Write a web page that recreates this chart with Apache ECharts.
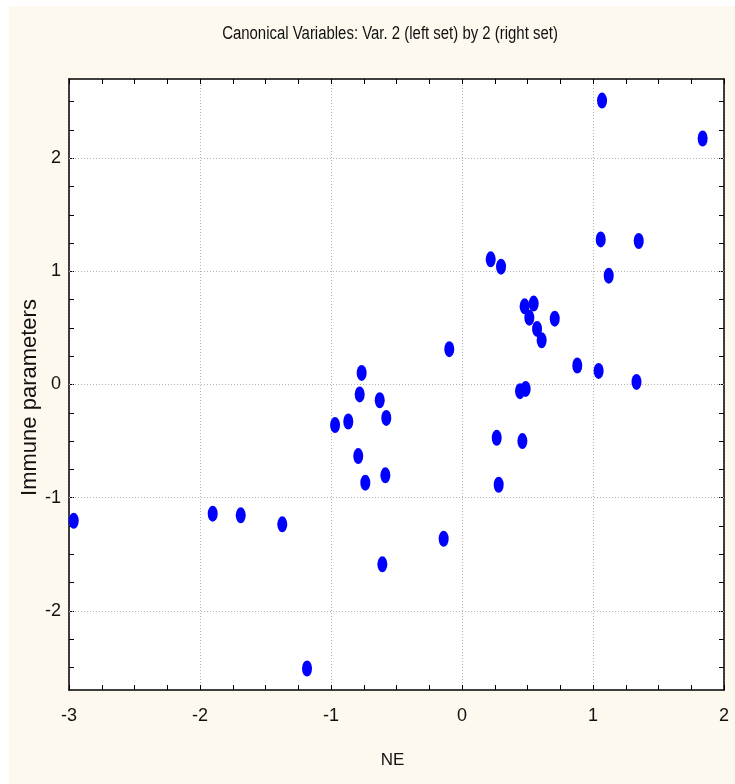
<!DOCTYPE html>
<html>
<head>
<meta charset="utf-8">
<script src="https://cdn.jsdelivr.net/npm/echarts@6/dist/echarts.min.js"></script>
<style>
  html, body { margin: 0; padding: 0; background: #ffffff; }
  #chart { position: absolute; left: 9px; top: 6px; width: 726px; height: 778px; }
</style>
</head>
<body>
<div id="chart"></div>
<script>
// Canonical variable scores: NE (left set, var. 2) vs immune parameters (right set, var. 2)
const neScores = [-2.964, -1.903, -1.689, -1.372, -1.183, -0.969, -0.868, -0.792, -0.781, -0.766,
                  -0.738, -0.628, -0.608, -0.585, -0.578, -0.140, -0.097, 0.219, 0.265, 0.280,
                  0.298, 0.443, 0.461, 0.478, 0.486, 0.514, 0.547, 0.573, 0.608, 0.708,
                  0.880, 1.043, 1.059, 1.069, 1.120, 1.332, 1.349, 1.837];
const immuneScores = [-1.204, -1.142, -1.156, -1.236, -2.510, -0.359, -0.327, -0.633, -0.088, 0.102,
                      -0.868, -0.139, -1.589, -0.803, -0.295, -1.363, 0.312, 1.106, -0.471, -0.886,
                      1.041, -0.059, -0.500, 0.691, -0.039, 0.591, 0.715, 0.491, 0.391, 0.582,
                      0.168, 0.120, 1.282, 2.509, 0.962, 0.023, 1.268, 2.174];

const yLabelValues = [-2, -1, 0, 1, 2];
const yTickValues = [-2.5, -2.25, -2, -1.75, -1.5, -1.25, -1, -0.75, -0.5, -0.25, 0,
                     0.25, 0.5, 0.75, 1, 1.25, 1.5, 1.75, 2, 2.25, 2.5];
const xRange = [-3, 2];
const yRange = [-2.7, 2.7];

const titleText = 'Canonical Variables: Var. 2 (left set) by 2 (right set)';
const xName = 'NE';
const yName = 'Immune parameters';

const sans = "'Liberation Sans', Arial, sans-serif";

const points = neScores.map((x, i) => [x, immuneScores[i]]);

const frameLine = { show: true, onZero: false, lineStyle: { color: '#000', width: 1.5 } };
const tickStyle = { color: '#000', width: 1 };

const chart = echarts.init(document.getElementById('chart'));
chart.setOption({
  animation: false,
  backgroundColor: '#fdf9ee',
  // condensed title text (horizontally squeezed sans)
  graphic: [
    {
      type: 'text',
      x: 381, y: 28,
      scaleX: 0.83,
      silent: true,
      style: {
        text: titleText,
        font: '18px ' + sans,
        fill: '#111',
        align: 'center',
        verticalAlign: 'middle'
      }
    }
  ],
  grid: {
    left: 60, right: 11, top: 73, bottom: 94,
    outerBoundsMode: 'none',
    show: true, backgroundColor: '#ffffff', borderWidth: 0
  },
  xAxis: [
    {
      type: 'value', position: 'bottom', min: xRange[0], max: xRange[1], interval: 1,
      axisLine: frameLine,
      axisTick: { show: true, inside: true, length: 5, lineStyle: tickStyle },
      minorTick: { show: true, splitNumber: 4, length: 5, lineStyle: tickStyle },
      splitLine: { show: true, lineStyle: { color: '#b4b4b4', type: [1, 2], width: 1 } },
      axisLabel: { margin: 17, fontFamily: sans, fontSize: 18, color: '#111' },
      name: xName, nameLocation: 'middle', nameGap: 62, nameMoveOverlap: false,
      nameTextStyle: { fontFamily: sans, fontSize: 17, color: '#111', padding: [0, 8, 0, 0] }
    },
    {
      type: 'value', position: 'top', min: xRange[0], max: xRange[1], interval: 1,
      axisLine: frameLine,
      axisTick: { show: true, inside: true, length: 5, lineStyle: tickStyle },
      minorTick: { show: true, splitNumber: 4, length: 5, lineStyle: tickStyle },
      splitLine: { show: false },
      axisLabel: { show: false }
    }
  ],
  yAxis: [
    {
      type: 'value', position: 'left', min: yRange[0], max: yRange[1],
      axisLine: frameLine,
      axisTick: { show: true, inside: true, length: 5, lineStyle: tickStyle, customValues: yTickValues },
      splitLine: { show: false },
      axisLabel: { margin: 8, fontFamily: sans, fontSize: 18, color: '#111', customValues: yLabelValues },
      name: yName, nameLocation: 'middle', nameGap: 28, nameRotate: 90, nameMoveOverlap: false,
      nameTextStyle: { fontFamily: sans, fontSize: 22, color: '#111', padding: [0, 26, 0, 0] }
    },
    {
      type: 'value', position: 'right', min: yRange[0], max: yRange[1],
      axisLine: frameLine,
      axisTick: { show: true, inside: true, length: 5, lineStyle: tickStyle, customValues: yTickValues },
      splitLine: { show: false },
      axisLabel: { show: false }
    }
  ],
  series: [
    {
      type: 'scatter',
      xAxisIndex: 0, yAxisIndex: 0,
      data: points,
      symbol: 'circle',
      symbolSize: [10, 16],
      itemStyle: { color: '#0000ff', opacity: 1 },
      z: 3,
      markLine: {
        silent: true,
        symbol: 'none',
        z: 1,
        label: { show: false },
        lineStyle: { color: '#b4b4b4', type: [1, 2], width: 1 },
        data: yLabelValues.map(v => ({ yAxis: v }))
      }
    }
  ]
});
</script>
</body>
</html>
